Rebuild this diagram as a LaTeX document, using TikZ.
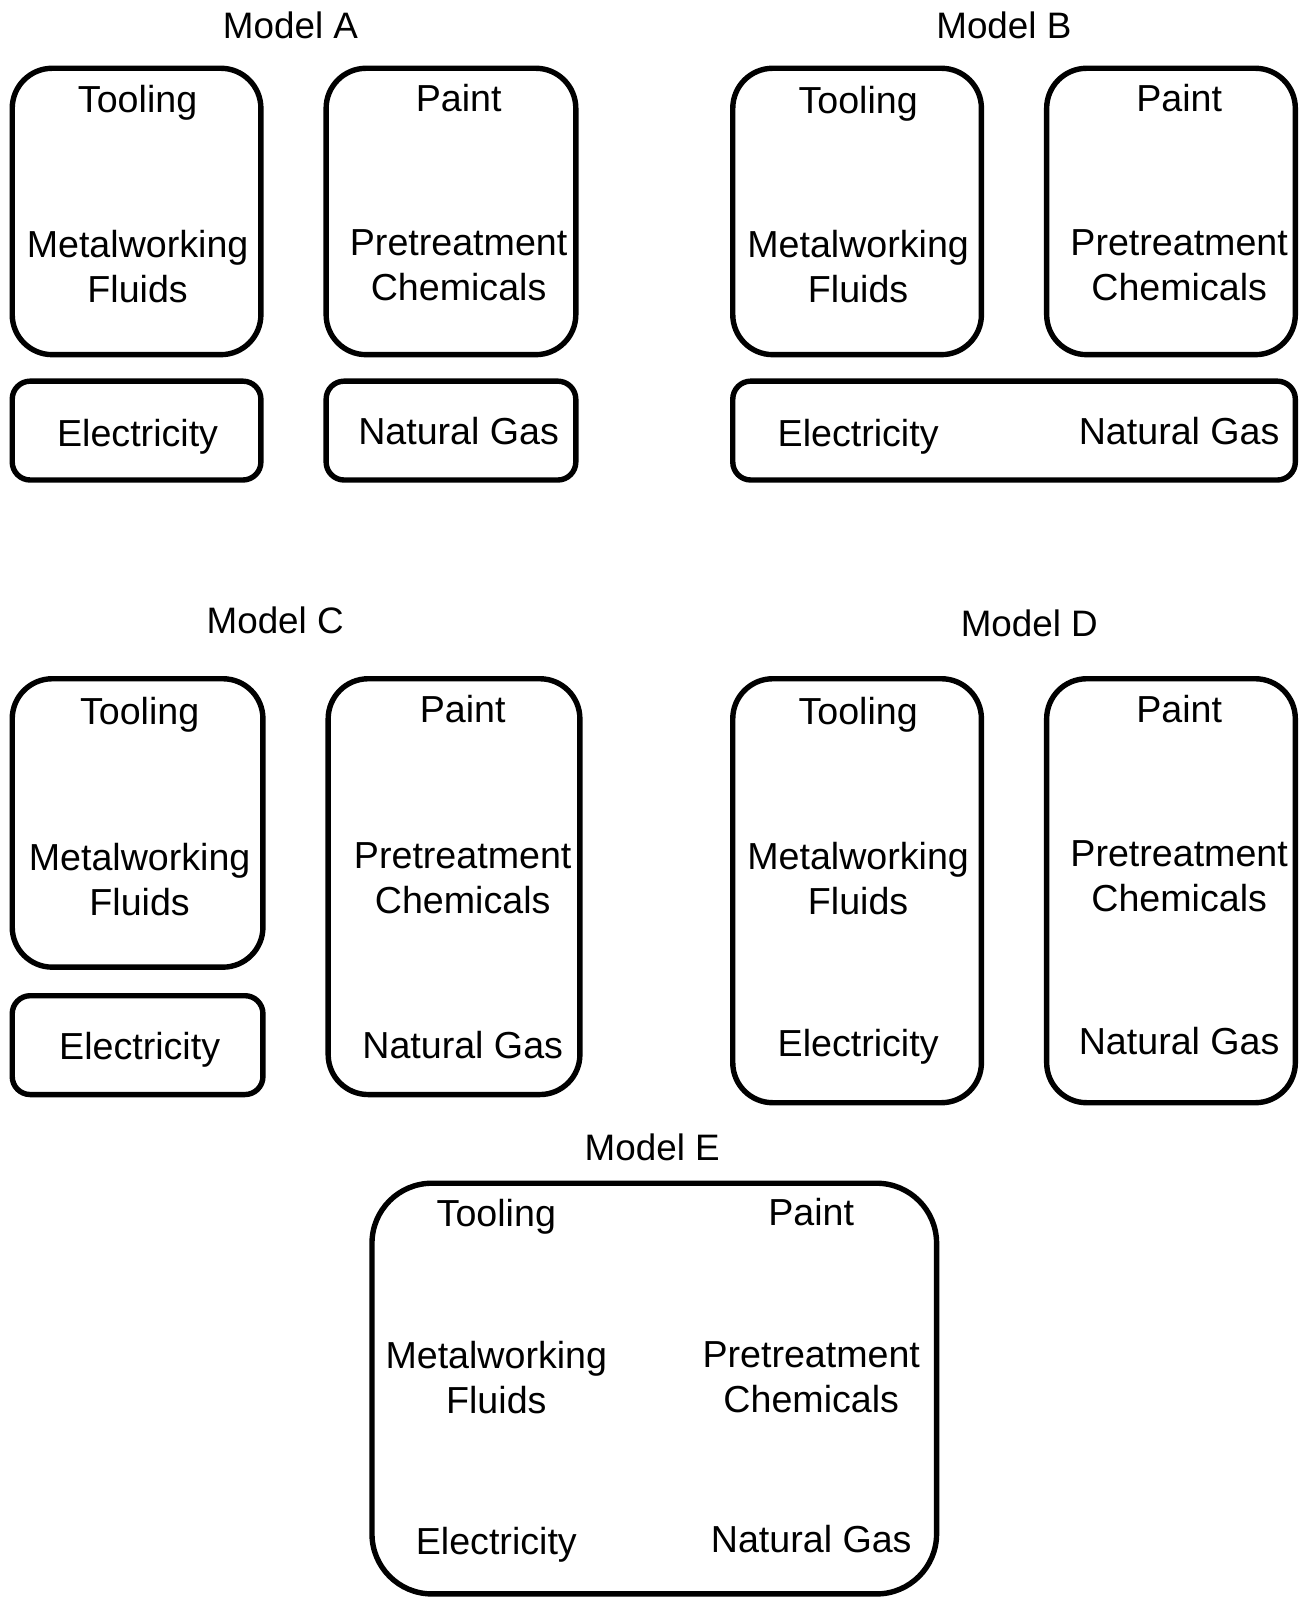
\documentclass[tikz,border=0pt]{standalone}
\usepackage{fontspec}
\setmainfont{Liberation Sans}
\usepackage{tikz}
\usetikzlibrary{positioning}

\begin{document}
\begin{tikzpicture}[x=0.5094pt, y=-0.5094pt,
		bigbox/.style={draw, line width=2.7pt, rounded corners=20pt},
		smallbox/.style={draw, line width=2.7pt, rounded corners=9pt},
		widebox/.style={draw, line width=2.7pt, rounded corners=30pt},
		lbl/.style={anchor=base, align=center, inner sep=0pt, font=\fontsize{18.8pt}{22.4pt}\selectfont},
		ttl/.style={anchor=base, inner sep=0pt, font=\fontsize{18.4pt}{22pt}\selectfont}]
		\useasboundingbox (0,0) rectangle (1278,1568);
		
		% Model A
		\node[ttl] (titleA) at (285, 38) {Model A};
		\draw[bigbox] (12, 67) rectangle (256, 348);
		\draw[bigbox] (320, 67) rectangle (565, 348);
		\draw[smallbox] (12, 374) rectangle (256, 471);
		\draw[smallbox] (320, 374) rectangle (565, 471);
		\node[lbl] (toolA) at (135, 110) {Tooling};
		\node[lbl] (fluidA) at (135, 297) {Metalworking\\Fluids};
		\node[lbl] (paintA) at (450, 109) {Paint};
		\node[lbl] (chemA) at (450, 295) {Pretreatment\\Chemicals};
		\node[lbl] (elecA) at (135, 438) {Electricity};
		\node[lbl] (gasA) at (450, 436) {Natural Gas};
		
		% Model B
		\node[ttl] (titleB) at (985, 38) {Model B};
		\draw[bigbox] (719, 67) rectangle (963, 348);
		\draw[bigbox] (1027, 67) rectangle (1271, 348);
		\draw[smallbox] (719, 374) rectangle (1271, 471);
		\node[lbl] (toolB) at (842, 111) {Tooling};
		\node[lbl] (fluidB) at (842, 297) {Metalworking\\Fluids};
		\node[lbl] (paintB) at (1157, 109) {Paint};
		\node[lbl] (chemB) at (1157, 295) {Pretreatment\\Chemicals};
		\node[lbl] (elecB) at (842, 438) {Electricity};
		\node[lbl] (gasB) at (1157, 436) {Natural Gas};
		
		% Model C
		\node[ttl] (titleC) at (270, 622) {Model C};
		\draw[bigbox] (12, 666) rectangle (258, 949);
		\draw[smallbox] (12, 977) rectangle (258, 1074);
		\draw[bigbox] (322, 666) rectangle (569, 1074);
		\node[lbl] (toolC) at (137, 711) {Tooling};
		\node[lbl] (fluidC) at (137, 898) {Metalworking\\Fluids};
		\node[lbl] (paintC) at (454, 709) {Paint};
		\node[lbl] (chemC) at (454, 896) {Pretreatment\\Chemicals};
		\node[lbl] (elecC) at (137, 1040) {Electricity};
		\node[lbl] (gasC) at (454, 1039) {Natural Gas};
		
		% Model D
		\node[ttl] (titleD) at (1010, 625) {Model D};
		\draw[bigbox] (719, 666) rectangle (963, 1082);
		\draw[bigbox] (1027, 666) rectangle (1271, 1082);
		\node[lbl] (toolD) at (842, 711) {Tooling};
		\node[lbl] (fluidD) at (842, 897) {Metalworking\\Fluids};
		\node[lbl] (paintD) at (1157, 709) {Paint};
		\node[lbl] (chemD) at (1157, 894) {Pretreatment\\Chemicals};
		\node[lbl] (elecD) at (842, 1037) {Electricity};
		\node[lbl] (gasD) at (1157, 1035) {Natural Gas};
		
		% Model E
		\node[ttl] (titleE) at (640, 1139) {Model E};
		\draw[widebox] (365, 1161) rectangle (919, 1564);
		\node[lbl] (toolE) at (487, 1203) {Tooling};
		\node[lbl] (fluidE) at (487, 1387) {Metalworking\\Fluids};
		\node[lbl] (paintE) at (796, 1202) {Paint};
		\node[lbl] (chemE) at (796, 1386) {Pretreatment\\Chemicals};
		\node[lbl] (elecE) at (487, 1525) {Electricity};
		\node[lbl] (gasE) at (796, 1523) {Natural Gas};
		
	\end{tikzpicture}
\end{document}
